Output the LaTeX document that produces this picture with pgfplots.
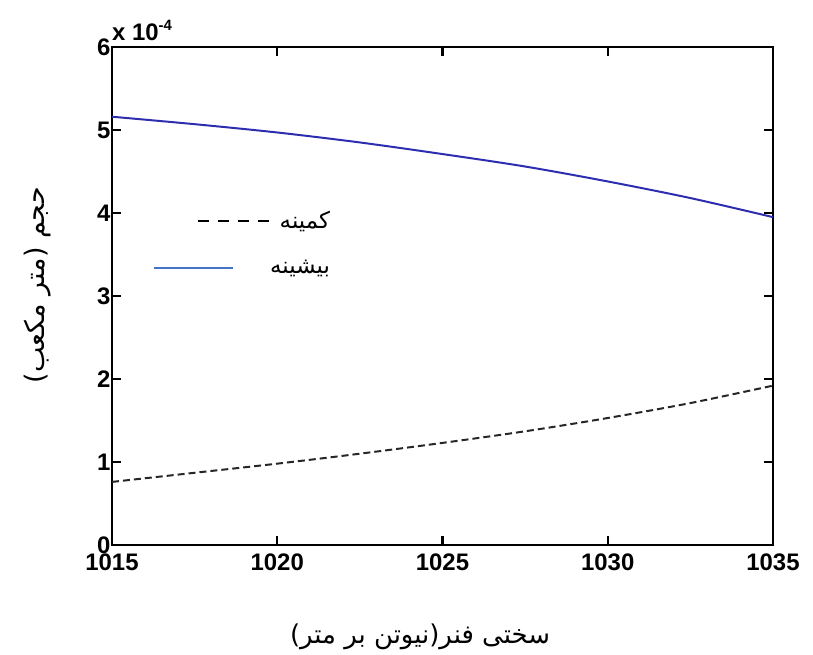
\documentclass[border=0pt]{standalone}
\usepackage{fontspec}
\setmainfont{Liberation Sans}
\newfontfamily\arabicfont[Script=Arabic]{DejaVu Sans}
\usepackage{pgfplots}
\pgfplotsset{compat=1.18}
\TeXXeTstate=1
\definecolor{curveblue}{RGB}{45,45,175}
\definecolor{legblue}{RGB}{68,114,196}
\begin{document}
\begin{tikzpicture}
\begin{axis}[
  name=ax,
  scale only axis,
  width=661bp, height=498bp,
  xmin=1015, xmax=1035, ymin=0, ymax=6,
  xtick={1015,1020,1025,1030,1035},
  ytick={0,1,2,3,4,5,6},
  tick align=inside,
  major tick length=9bp,
  axis line style={line width=2.6pt},
  every tick/.style={black, line width=2.2pt},
  /pgf/number format/assume math mode=true,
  /pgf/number format/1000 sep={},
  ticklabel style={font=\fontsize{24}{26}\selectfont\bfseries},
  xticklabel style={yshift=-5bp},
  yticklabel style={xshift=2bp},
  clip=false,
  xlabel={\arabicfont\fontsize{26}{28}\selectfont\beginR سختی فنر(نیوتن بر متر)\endR},
  xlabel style={at={(axis description cs:0.466,-0.185)}, anchor=center},
  ylabel={\arabicfont\fontsize{27}{29}\selectfont\beginR حجم (متر مکعب)\endR},
  ylabel style={at={(axis description cs:-0.113,0.522)}, anchor=center, rotate=0},
  legend style={at={(axis description cs:0.062,0.674)}, anchor=north west, draw=none, fill=none,
    font=\arabicfont\fontsize{23}{26}\selectfont, row sep=26bp, column sep=0pt,
    inner sep=0pt, nodes={inner xsep=0bp}},
  legend cell align=right,
]
\addplot[black!85, line width=2pt, dash pattern=on 7bp off 4bp, smooth, forget plot] coordinates {
(1015,0.76) (1017.5,0.87) (1020,0.98) (1022.5,1.10) (1025,1.23) (1027.5,1.37) (1030,1.53) (1032.5,1.71) (1035,1.92)};
\addplot[curveblue, line width=2pt, smooth, forget plot] coordinates {
(1015,5.16) (1017.5,5.07) (1020,4.97) (1022.5,4.85) (1025,4.71) (1027.5,4.56) (1030,4.38) (1032.5,4.18) (1035,3.95)};
\addlegendimage{legend image code/.code={\draw[black, line width=2pt, dash pattern=on 11bp off 9bp] (44bp,0bp) -- (115bp,0bp);}}
\addlegendentry{\beginR کمینه\endR}
\addlegendimage{legend image code/.code={\draw[legblue, line width=2pt] (0bp,0bp) -- (79bp,0bp); \path (115bp,0bp);}}
\addlegendentry{\beginR بیشینه\endR}
\node[anchor=south west, inner sep=0pt, font=\fontsize{24}{26}\selectfont\bfseries] at (rel axis cs:0,1.012) {x 10\raisebox{10bp}{\fontsize{15}{16}\selectfont -4}};
\end{axis}
\pgfresetboundingbox
\path ([shift={(-112bp,-110bp)}]ax.south west) rectangle ([shift={(40bp,47bp)}]ax.north east);
\end{tikzpicture}
\end{document}
